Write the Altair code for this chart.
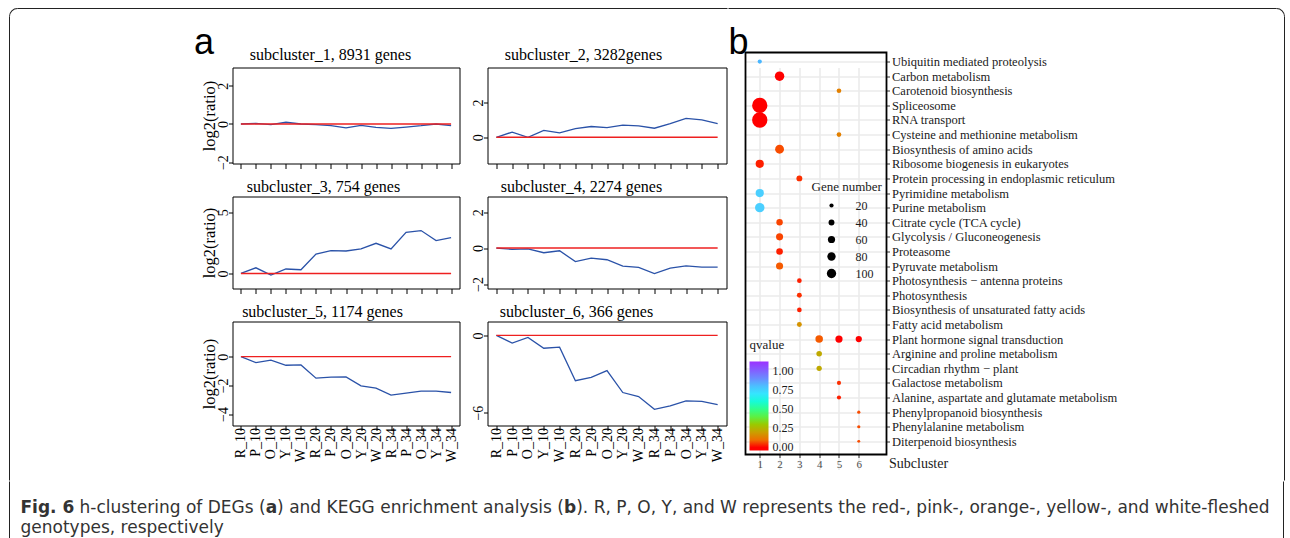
import json
import altair as alt
import pandas as pd

SERIF = "Liberation Serif"
NARROW = "'Liberation Sans Narrow', 'Liberation Sans', sans-serif"
CAPTION_FONT = "'DejaVu Sans', sans-serif"
BLUE = "#2a52a8"
RED = "#ee2020"
BORDER = "#222222"

# ---------------- panel a data ----------------
samples = ["R_10", "P_10", "O_10", "Y_10", "W_10", "R_20", "P_20", "O_20",
           "Y_20", "W_20", "R_34", "P_34", "O_34", "Y_34", "W_34"]
sub_titles = ["subcluster_1, 8931 genes", "subcluster_2, 3282genes",
              "subcluster_3, 754 genes", "subcluster_4, 2274 genes",
              "subcluster_5, 1174 genes", "subcluster_6, 366 genes"]
sub1 = [0.0, 0.03, -0.03, 0.09, 0.0, -0.03, -0.09, -0.2, -0.07, -0.18, -0.23, -0.16, -0.09, 0.0, -0.09]
sub2 = [0.0, 0.3, 0.0, 0.4, 0.25, 0.5, 0.62, 0.55, 0.7, 0.66, 0.52, 0.78, 1.09, 1.0, 0.78]
sub3 = [0.0, 0.46, -0.14, 0.36, 0.3, 1.58, 1.86, 1.83, 2.0, 2.46, 2.0, 3.36, 3.5, 2.68, 2.92]
sub4 = [0.0, -0.07, -0.04, -0.26, -0.15, -0.75, -0.56, -0.65, -1.0, -1.08, -1.42, -1.12, -0.99, -1.06, -1.06]
sub5 = [0.0, -0.42, -0.25, -0.6, -0.58, -1.5, -1.43, -1.41, -2.04, -2.2, -2.68, -2.54, -2.4, -2.4, -2.5]
sub6 = [0.0, -0.6, -0.16, -1.0, -0.91, -3.52, -3.26, -2.74, -4.44, -4.75, -5.74, -5.48, -5.09, -5.12, -5.38]
sub_values = [sub1, sub2, sub3, sub4, sub5, sub6]
y_domains = [[-2.07, 2.96], [-1.5, 4.0], [-1.23, 6.28], [-2.25, 2.87], [-4.8, 2.45], [-7.0, 1.08]]
y_ticks = [[-2, 0, 2], [0, 2], [0, 5], [-2, 0, 2], [-4, -2, 0], [-6, -4, -2, 0]]

# ---------------- panel b data ----------------
pathways = ["Ubiquitin mediated proteolysis", "Carbon metabolism", "Carotenoid biosynthesis",
            "Spliceosome", "RNA transport", "Cysteine and methionine metabolism",
            "Biosynthesis of amino acids", "Ribosome biogenesis in eukaryotes",
            "Protein processing in endoplasmic reticulum", "Pyrimidine metabolism",
            "Purine metabolism", "Citrate cycle (TCA cycle)", "Glycolysis / Gluconeogenesis",
            "Proteasome", "Pyruvate metabolism", "Photosynthesis \u2212 antenna proteins",
            "Photosynthesis", "Biosynthesis of unsaturated fatty acids", "Fatty acid metabolism",
            "Plant hormone signal transduction", "Arginine and proline metabolism",
            "Circadian rhythm \u2212 plant", "Galactose metabolism",
            "Alanine, aspartate and glutamate metabolism", "Phenylpropanoid biosynthesis",
            "Phenylalanine metabolism", "Diterpenoid biosynthesis"]
dot_pathway = pathways[:19] + ["Plant hormone signal transduction"] * 2 + pathways[19:]
dot_cluster = [1, 2, 5, 1, 1, 5, 2, 1, 3, 1, 1, 2, 2, 2, 2, 3, 3, 3, 3,
               4, 5, 6, 4, 4, 5, 5, 6, 6, 6]
dot_genes = [20, 103, 25, 270, 270, 25, 90, 78, 40, 78, 103, 48, 58, 50, 58, 25, 28, 25, 28,
             65, 60, 45, 36, 32, 20, 20, 12, 12, 10]
dot_qvalue = [0.82, 0.0, 0.13, 0.0, 0.0, 0.13, 0.05, 0.01, 0.02, 0.76, 0.76, 0.04, 0.04, 0.01,
              0.07, 0.01, 0.02, 0.01, 0.17, 0.07, 0.0, 0.0, 0.22, 0.22, 0.02, 0.01, 0.05, 0.05, 0.05]
q_stops = [-0.04, 0.0, 0.07, 0.15, 0.25, 0.35, 0.45, 0.55, 0.65, 0.78, 0.9, 1.02, 1.12]
q_colors = ["#ff0000", "#ff0000", "#f55a00", "#dd8a00", "#b0b400", "#70e020", "#3cff60",
            "#40ffb0", "#40f5f5", "#55c8ff", "#6a8cff", "#8a55ff", "#9b30ff"]
gene_legend = [20, 40, 60, 80, 100]
q_legend = [0, 0.25, 0.5, 0.75, 1.0]
cluster_ticks = [1, 2, 3, 4, 5, 6]

# caption pieces: (text, bold?)
caption_line1 = [("Fig. 6", True), ("h-clustering of DEGs (", False), ("a", True),
                 (") and KEGG enrichment analysis (", False), ("b", True),
                 ("). R, P, O, Y, and W represents the red-, pink-, orange-, yellow-, "
                  "and white-fleshed", False)]
caption_line2 = "genotypes, respectively"

# ---------------- layout constants ----------------
col_w = [227, 239]
row_h = [96, 92, 104]
title_x = [98, 96, 91, 94, 90, 89]
title_y = [-7.5, -5, -5]
CAP = 17
# start x (page px) of each caption piece, from DejaVu Sans advance widths at 17px
caption_x = [20, 79, 79 + 10.949 * CAP, 79 + 11.624 * CAP, 79 + 28.501 * CAP, 79 + 29.217 * CAP]
one = pd.DataFrame({"k": [0]})


def text_layer(txt, x, y, **kw):
    return alt.Chart(pd.DataFrame({"t": [txt]})).mark_text(**kw).encode(
        text="t:N", x=alt.value(x), y=alt.value(y))


def line_rect(x, x2, y, y2):
    return alt.Chart(one).mark_rect(color=BORDER, strokeWidth=0).encode(
        x=alt.value(x), x2=alt.value(x2), y=alt.value(y), y2=alt.value(y2))


def corner(cx, cy, t0, t1):
    return alt.Chart(one).mark_arc(theta=t0, theta2=t1, radius=8.5, radius2=7.5,
                                   x=cx, y=cy).encode(color=alt.value(BORDER))


def line_panel(i):
    col, row = i % 2, i // 2
    w, h = col_w[col], row_h[row]
    df = pd.DataFrame({"sample": samples, "ratio": sub_values[i], "step": list(range(len(samples)))})
    x_axis = dict(title=None, labels=(row == 2), labelAngle=270, labelAlign="right",
                  labelBaseline="middle", labelFont=SERIF, labelFontSize=14, labelColor="black",
                  labelPadding=-3, tickSize=5, tickColor="black", domain=False, grid=False)
    y_axis = dict(values=y_ticks[i], labelAngle=270, labelAlign="center", labelBaseline="alphabetic",
                  labelFont=SERIF, labelFontSize=14, labelColor="black", labelPadding=1,
                  tickSize=4, tickColor="black", domain=False, grid=False)
    if col == 0:
        y_axis.update(title="log2(ratio)", titleFont=SERIF, titleFontSize=16.5,
                      titleFontWeight="normal", titleColor="black", titleAngle=270,
                      titleX=-23, titleY=h / 2, titleAlign="center", titleBaseline="middle")
    else:
        y_axis["title"] = None
    x = alt.X("sample:N", sort=samples, scale=alt.Scale(type="point", domain=samples, padding=0.56),
              axis=alt.Axis(**x_axis))
    y = alt.Y("ratio:Q", scale=alt.Scale(domain=y_domains[i], nice=False, zero=False),
              axis=alt.Axis(**y_axis))
    blue = alt.Chart(df).mark_line(color=BLUE, strokeWidth=1.3).encode(x=x, y=y, order="step:Q")
    red = alt.Chart(one).mark_rule(color=RED, strokeWidth=1.4).encode(
        x=alt.datum(samples[0]), x2=alt.datum(samples[-1]), y=alt.datum(0))
    ttl = text_layer(sub_titles[i], title_x[i], title_y[row], font=SERIF, fontSize=16,
                     color="black", align="center", baseline="alphabetic")
    layers = [blue, red, ttl]
    if i == 0:
        # panel letter and the left/top part of the page frame (relative to this panel at 232,67)
        layers += [
            text_layer("a", 213.5 - 232, 53 - 67, font=NARROW, fontSize=36,
                       color="black", align="right", baseline="alphabetic"),
            line_rect(17 - 232, 727 - 232, 7.5 - 67, 8.5 - 67),
            line_rect(8.5 - 232, 9.5 - 232, 16 - 67, 480 - 67),
            corner(17 - 232, 16 - 67, 4.712389, 6.283185),
        ]
    return alt.layer(*layers).properties(
        width=w, height=h, view=alt.ViewBackground(stroke="black", strokeWidth=1))


panels_a = [line_panel(i) for i in range(6)]
grid_a = alt.concat(*panels_a, columns=2, spacing={"row": 33, "column": 28},
                    bounds="flush", align="each")

# ---------------- panel b (origin at 744,67; plot box spans 52..454) ----------------
dots = pd.DataFrame({"pathway": dot_pathway, "cluster": dot_cluster,
                     "genes": dot_genes, "qvalue": dot_qvalue})
dots["row"] = [pathways.index(p) for p in dot_pathway]
label_expr = json.dumps(pathways, ensure_ascii=False) + "[datum.value]"

GRID = "#ebebeb"
B_W, B_H, B_TOP = 141, 387, -15
x_b = alt.X("cluster:Q", scale=alt.Scale(domain=[0.28, 7.4], nice=False, zero=False),
            axis=alt.Axis(values=cluster_ticks, title="Subcluster", titleFont=SERIF,
                          titleFontSize=14, titleFontWeight="normal", titleColor="#1a1a1a",
                          titleX=143, titleY=13, titleAlign="left", titleBaseline="alphabetic",
                          labelFont=SERIF, labelFontSize=11, labelColor="#4d4d4d",
                          labelPadding=1, tickSize=3, tickColor="#333333", domain=False,
                          grid=True, gridColor=GRID, gridWidth=1.6))
y_b = alt.Y("row:Q", scale=alt.Scale(domain=[-0.62, 26.9], range=[B_TOP, B_H], nice=False, zero=False),
            axis=alt.Axis(orient="right", values=list(range(len(pathways))), labelExpr=label_expr,
                          title=None, labelFont=SERIF, labelFontSize=12.5, labelColor="#1a1a1a",
                          labelPadding=2, labelLimit=400, tickSize=3, tickColor="#333333",
                          domain=False, grid=True, gridColor=GRID, gridWidth=1.6))
size_b = alt.Size("genes:Q", scale=alt.Scale(domain=[0, 100], range=[0, 87]),
                  legend=alt.Legend(title="Gene number", orient="none", legendX=66, legendY=113,
                                    values=gene_legend, direction="vertical",
                                    titleFont=SERIF, titleFontSize=13, titleFontWeight="normal",
                                    titleColor="#1a1a1a", titlePadding=6,
                                    labelFont=SERIF, labelFontSize=12, labelColor="#1a1a1a",
                                    symbolType="circle", symbolFillColor="black",
                                    symbolStrokeColor="black", symbolStrokeWidth=0,
                                    symbolOffset=14, labelOffset=18, rowPadding=5))
color_b = alt.Color("qvalue:Q", scale=alt.Scale(domain=q_stops, range=q_colors),
                    legend=alt.Legend(title="qvalue", orient="none", legendX=4, legendY=271,
                                      values=q_legend, format=".2f", direction="vertical",
                                      gradientLength=89, gradientThickness=19,
                                      gradientStrokeWidth=0,
                                      titleFont=SERIF, titleFontSize=13, titleFontWeight="normal",
                                      titleColor="#1a1a1a", titlePadding=10,
                                      labelFont=SERIF, labelFontSize=12, labelColor="#1a1a1a",
                                      labelOffset=4))
points = alt.Chart(dots).mark_circle(opacity=1).encode(x=x_b, y=y_b, size=size_b, color=color_b)
frame_b = alt.Chart(one).mark_rect(fill="transparent", stroke="black", strokeWidth=1.8).encode(
    x=alt.value(0), x2=alt.value(B_W), y=alt.value(B_TOP), y2=alt.value(B_H))

deco_b = [
    text_layer("b", -17, 53 - 67, font=NARROW, fontSize=36, color="black", align="left",
               baseline="alphabetic"),
    line_rect(-17, 1275 - 744, 7.5 - 67, 8.5 - 67),
    line_rect(1282.5 - 744, 1283.5 - 744, 16 - 67, 480 - 67),
    corner(1275 - 744, 16 - 67, 0, 1.570796),
]
panel_b = alt.layer(points, frame_b, *deco_b).properties(
    width=B_W, height=B_H, view=alt.ViewBackground(stroke="transparent", strokeWidth=0))

# ---------------- caption (origin at 232,490) ----------------
cap_layers = []
for (piece, bold), px in zip(caption_line1, caption_x):
    cap_layers.append(text_layer(piece, px - 232, 511 - 490, font=CAPTION_FONT, fontSize=CAP,
                                 fontWeight="bold" if bold else "normal", color="#333333",
                                 align="left", baseline="alphabetic"))
cap_layers += [
    text_layer(caption_line2, 20 - 232, 531 - 490, font=CAPTION_FONT, fontSize=CAP,
               color="#333333", align="left", baseline="alphabetic"),
    line_rect(8.5 - 232, 9.5 - 232, 480 - 490, 537 - 490),
    line_rect(1282.5 - 232, 1283.5 - 232, 480 - 490, 537 - 490),
]
caption = alt.layer(*cap_layers).properties(
    width=900, height=30, view=alt.ViewBackground(stroke="transparent", strokeWidth=0))

top_row = alt.hconcat(grid_a, panel_b, spacing=0, bounds="full").resolve_legend(
    color="independent", size="independent")
chart = alt.vconcat(top_row, caption, spacing=0, bounds="full").resolve_legend(
    color="independent", size="independent").properties(
    padding={"left": 8.5, "top": 7.5, "right": 0, "bottom": 0}, background="white")

chart.save("out.html", embed_options={"renderer": "svg", "actions": False})
